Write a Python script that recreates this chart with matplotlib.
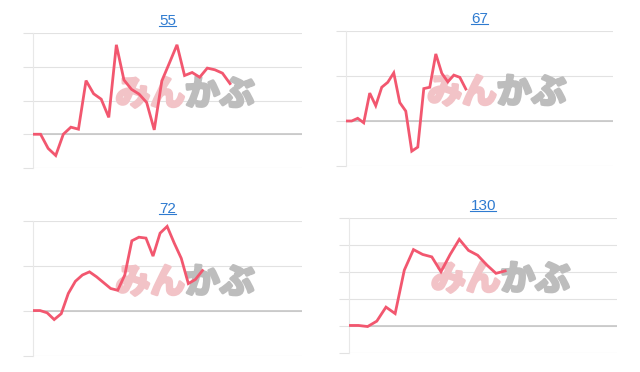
import numpy as np
import matplotlib
matplotlib.use("Agg")
import matplotlib.pyplot as plt
import matplotlib.patheffects as pe
from matplotlib.lines import Line2D

plt.rcParams["font.family"] = ["Liberation Sans", "DejaVu Sans"]

# ---- data ----
titles = ["55", "67", "72", "130"]

vals_55 = [0, 0, -0.42, -0.63, 0, 0.21, 0.15, 1.59, 1.20, 1.04, 0.50, 2.65, 1.61,
           1.33, 1.19, 0.94, 0.13, 1.58, 2.11, 2.65, 1.74, 1.83, 1.69, 1.96, 1.91,
           1.81, 1.50]
vals_67 = [0, 0, 0.06, -0.04, 0.62, 0.34, 0.75, 0.86, 1.07, 0.41, 0.22, -0.67,
           -0.58, 0.72, 0.75, 1.49, 1.06, 0.87, 1.02, 0.97, 0.71]
vals_72 = [0.01, 0.01, -0.04, -0.19, -0.06, 0.39, 0.66, 0.80, 0.87, 0.76, 0.63,
           0.50, 0.46, 0.80, 1.56, 1.64, 1.62, 1.22, 1.73, 1.88, 1.51, 1.17, 0.61,
           0.70, 0.90]
vals_130 = [0.02, 0.02, -0.02, 0.18, 0.70, 0.46, 2.07, 2.83, 2.65, 2.56, 2.01,
            2.65, 3.21, 2.80, 2.62, 2.26, 1.95, 2.04]

series = [vals_55, vals_67, vals_72, vals_130]
y_ranges = [(-1, 3), (-1, 2), (-1, 2), (-1, 4)]
x_slots = [35.5, 44.5, 38.1, 29.2]

# axes boxes in pixels: left, right, top, bottom
W, H = 640, 372
boxes = [(33, 302, 33, 168), (345.7, 613, 31, 166),
         (33, 302, 221, 356), (349.3, 617, 218, 353)]

LINE = "#f2576f"
GRID = "#e2e2e2"
ZERO = "#c6c6c6"
LINK = "#2f7bd0"
PINK = "#f2c3c7"
GRAY = "#bdbdbd"

fig = plt.figure(figsize=(W / 100, H / 100), dpi=100)
fig.patch.set_facecolor("white")

title_objs = []
for (l, r, t, b), vals, (lo, hi), xs, ttl in zip(boxes, series, y_ranges, x_slots, titles):
    ax = fig.add_axes([l / W, (H - b) / H, (r - l) / W, (b - t) / H])
    ax.set_xlim(0, xs)
    ax.set_ylim(lo, hi)
    ax.set_yticks(np.arange(lo, hi + 1))
    ax.set_xticks([])
    ax.grid(axis="y", color=GRID, lw=0.8)
    ax.set_axisbelow(True)
    ax.tick_params(axis="y", length=7, width=0.8, color=GRID, labelleft=False)
    for s in ("top", "right", "bottom"):
        ax.spines[s].set_visible(False)
    ax.spines["left"].set_color("#e8e8e8")
    ax.spines["left"].set_linewidth(0.8)
    ax.axhline(0, color=ZERO, lw=1.2, zorder=1)

    # watermark logo (stroke to fake the heavy weight)
    ax.text(0.565, 0.545, "みん", transform=ax.transAxes, ha="right", va="center",
            fontsize=25, fontweight="bold", color=PINK,
            family=["Noto Sans CJK JP", "DejaVu Sans"], zorder=1,
            path_effects=[pe.withStroke(linewidth=2.2, foreground=PINK)])
    ax.text(0.565, 0.545, "かぶ", transform=ax.transAxes, ha="left", va="center",
            fontsize=25, fontweight="bold", color=GRAY,
            family=["Noto Sans CJK JP", "DejaVu Sans"], zorder=1,
            path_effects=[pe.withStroke(linewidth=2.2, foreground=GRAY)])

    ax.plot(np.arange(len(vals)), vals, color=LINE, lw=2.0, zorder=3,
            solid_joinstyle="miter")
    title_objs.append(ax.set_title(ttl, color=LINK, fontsize=11, pad=6))

# underline the titles like links
fig.canvas.draw()
inv = fig.transFigure.inverted()
for t in title_objs:
    bb = t.get_window_extent()
    (x0, y0), (x1, _) = inv.transform([(bb.x0, bb.y0 + 1.5), (bb.x1, bb.y0)])
    fig.add_artist(Line2D([x0, x1], [y0, y0], color=LINK, lw=0.8))

fig.savefig("out.png", dpi=100, facecolor="white")
